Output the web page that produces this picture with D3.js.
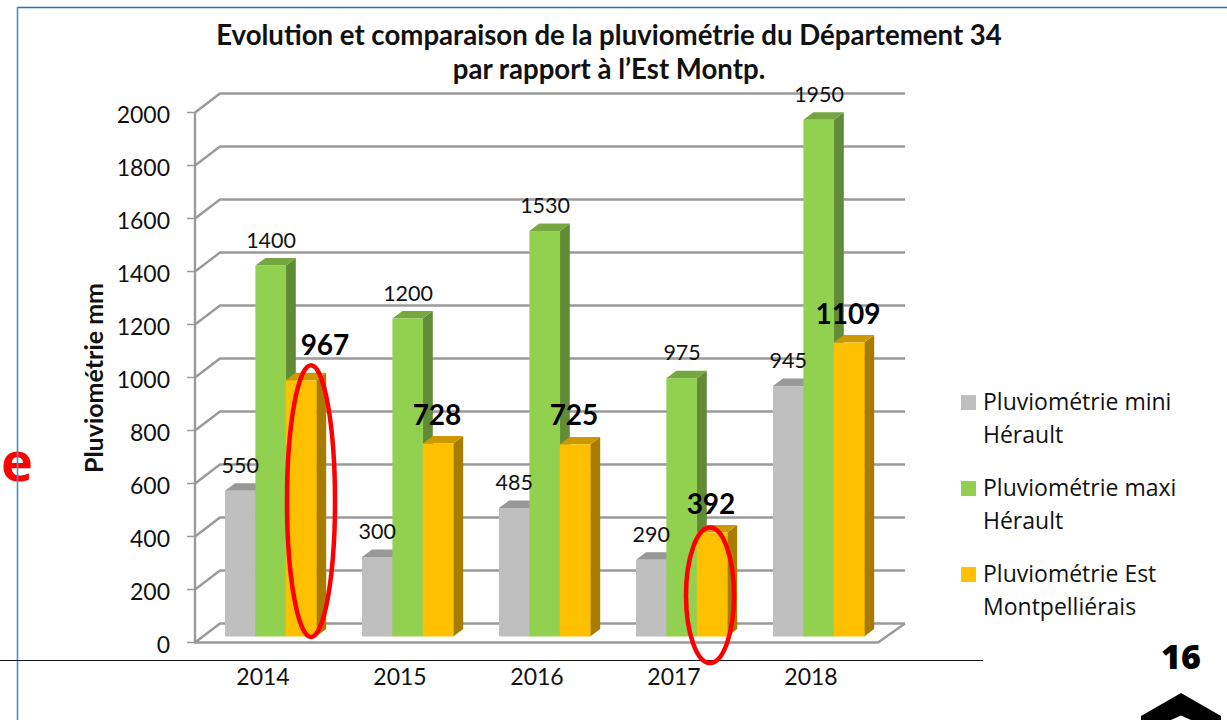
<!DOCTYPE html>
<html><head><meta charset="utf-8">
<style>html,body{margin:0;padding:0;background:#fff}svg{display:block}</style>
<script src="https://cdnjs.cloudflare.com/ajax/libs/d3/7.8.5/d3.min.js"></script>
</head><body><div id="c"></div>
<script>
const years = ["2014","2015","2016","2017","2018"];
const mini = [550,300,485,290,945];
const maxi = [1400,1200,1530,975,1950];
const est = [967,728,725,392,1109];
const legendLines = [["Pluviométrie mini","Hérault"],["Pluviométrie maxi","Hérault"],["Pluviométrie Est","Montpelliérais"]];
const yTicks = d3.range(0,2001,200);
const titleLines = ["Evolution et comparaison de la pluviométrie du Département 34","par rapport à l’Est Montp."];
const colors = ["#BFBFBF","#92D050","#FFC000"];
const tops = ["#989898","#75A640","#CC9A00"];
const sides = ["#8A8A8A","#628B37","#A67D00"];
const series = [mini,maxi,est];
const labelFont = "Lato, Carlito, sans-serif";

const W=1227,H=720;
const svg=d3.select("#c").append("svg").attr("width",W).attr("height",H);

// red letter cut off by the slide frame
svg.append("text").attr("x",1).attr("y",481).attr("font-family","'Open Sans',sans-serif").attr("font-weight",700).attr("font-size",54).attr("fill","#FF0000").text("e");

// slide frame and rule
svg.append("path").attr("d","M17.5 7.5H1227").attr("fill","none").attr("stroke","#1B75BC").attr("stroke-width",1.6);
svg.append("path").attr("d","M17.5 7V720").attr("fill","none").attr("stroke","#4A90C8").attr("stroke-width",1.6);
svg.append("line").attr("x1",0).attr("x2",983).attr("y1",660.5).attr("y2",660.5).attr("stroke","#111").attr("stroke-width",1);

const y=d3.scaleLinear().domain([0,2000]).range([642.5,112.5]);
const x=d3.scaleBand().domain(years).range([195,880]);
const dx=25,dy=-19; // wall depth
const grid="#9a9a9a";
const g=svg.append("g");
g.selectAll("path.grid").data(yTicks).join("path").attr("class","grid")
 .attr("d",d=>`M195 ${y(d)}L${195+dx} ${y(d)+dy}H905`)
 .attr("fill","none").attr("stroke",grid).attr("stroke-width",2.4);
g.append("path").attr("d",`M195 ${y(2000)}V${y(0)}H878L905 ${y(0)+dy}`).attr("fill","none").attr("stroke",grid).attr("stroke-width",2.4);
g.selectAll("line.tick").data(yTicks).join("line").attr("class","tick")
 .attr("x1",187).attr("x2",195).attr("y1",d=>y(d)).attr("y2",d=>y(d)).attr("stroke",grid).attr("stroke-width",1.5);

svg.append("g").selectAll("text").data(yTicks).join("text")
 .attr("x",170).attr("y",d=>y(d)+10.5).attr("text-anchor","end")
 .attr("font-family",labelFont).attr("font-size",23).attr("fill","#111").text(d=>d);
svg.append("g").selectAll("text").data(years).join("text")
 .attr("x",d=>x(d)+x.bandwidth()/2-0.5).attr("y",685).attr("text-anchor","middle")
 .attr("font-family",labelFont).attr("font-size",23).attr("fill","#111").text(d=>d);

svg.append("text").attr("transform","translate(103,378) rotate(-90)").attr("text-anchor","middle")
 .attr("font-family",labelFont).attr("font-weight",700).attr("font-size",25).attr("fill","#111").text("Pluviométrie mm");
svg.append("g").selectAll("text").data(titleLines).join("text")
 .attr("x",609).attr("y",(d,i)=>45+i*34).attr("text-anchor","middle")
 .attr("font-family",labelFont).attr("font-weight",700).attr("font-size",27.6).attr("fill","#111").text(d=>d);

// bars
const barW=30.4, barDx=10, barDy=-7.5, baseShift=-6, start=30;
const sx=d3.scaleLinear().domain([0,3]).range([start,start+3*barW]);
const bars=svg.append("g");
years.forEach((yr,i)=>{
  series.forEach((vals,s)=>{
    const v=vals[i], x0=x(yr)+sx(s), x1=x0+barW, yt=y(v)+baseShift, yb=y(0)+baseShift;
    bars.append("path").attr("d",`M${x1} ${yt}l${barDx} ${barDy}V${yb+barDy}l${-barDx} ${-barDy}Z`).attr("fill",sides[s]);
    bars.append("path").attr("d",`M${x0} ${yt}l${barDx} ${barDy}H${x1+barDx}l${-barDx} ${-barDy}Z`).attr("fill",tops[s]);
  });
});
years.forEach((yr,i)=>{
  series.forEach((vals,s)=>{
    const v=vals[i], x0=x(yr)+sx(s), yt=y(v)+baseShift, yb=y(0)+baseShift;
    bars.append("rect").attr("x",x0).attr("y",yt).attr("width",barW+0.3).attr("height",yb-yt).attr("fill",colors[s]);
  });
});

// value labels
const lab=svg.append("g");
years.forEach((yr,i)=>{
  [0,1].forEach(s=>{
    const v=series[s][i], cx=x(yr)+sx(s)+barW/2;
    lab.append("text").attr("x",cx+(s===0?0:0.5)).attr("y",y(v)+baseShift-(s===0?18:18))
      .attr("text-anchor","middle").attr("font-family",labelFont).attr("font-size",21.5).attr("fill","#111").text(v);
  });
  const v=est[i], cx=x(yr)+sx(2)+barW/2;
  const first=i===0;
  lab.append("text").attr("x",cx+(first?24:-1)).attr("y",y(v)+baseShift-(first?25:19))
    .attr("text-anchor","middle").attr("font-family",labelFont).attr("font-weight",700).attr("font-size",28).attr("fill","#000").text(v);
});

// red ellipses around 2014 and 2017 Est values
const ell=svg.append("g");
[0,3].forEach(i=>{
  const yr=years[i], cx=x(yr)+sx(2)+barW/2+(i===0?10:-2);
  const top=y(est[i])+(i===0?-21:-11), bot=i===0?637:663;
  ell.append("ellipse").attr("cx",cx).attr("cy",(top+bot)/2).attr("rx",24).attr("ry",(bot-top)/2)
    .attr("fill","none").attr("stroke","#FF0000").attr("stroke-width",4.5);
});

// legend
const ly=[402,488,574];
const leg=svg.append("g");
legendLines.forEach((ls,i)=>{
  leg.append("rect").attr("x",961).attr("y",ly[i]-7).attr("width",15).attr("height",15).attr("fill",colors[i]);
  ls.forEach((t,j)=>leg.append("text").attr("x",983).attr("y",ly[i]+8+j*33)
    .attr("font-family","'Open Sans','Noto Sans',sans-serif").attr("font-size",23).attr("fill","#111").text(t));
});

// page number and chevron
svg.append("text").attr("x",1181).attr("y",669).attr("text-anchor","middle").attr("font-family","'Open Sans',sans-serif").attr("font-weight",800).attr("font-size",34).attr("fill","#000").text("16");
svg.append("path").attr("d","M1141 716L1181 693L1221 716V720H1191L1181 715.5L1171 720H1141Z").attr("fill","#000");
</script></body></html>
